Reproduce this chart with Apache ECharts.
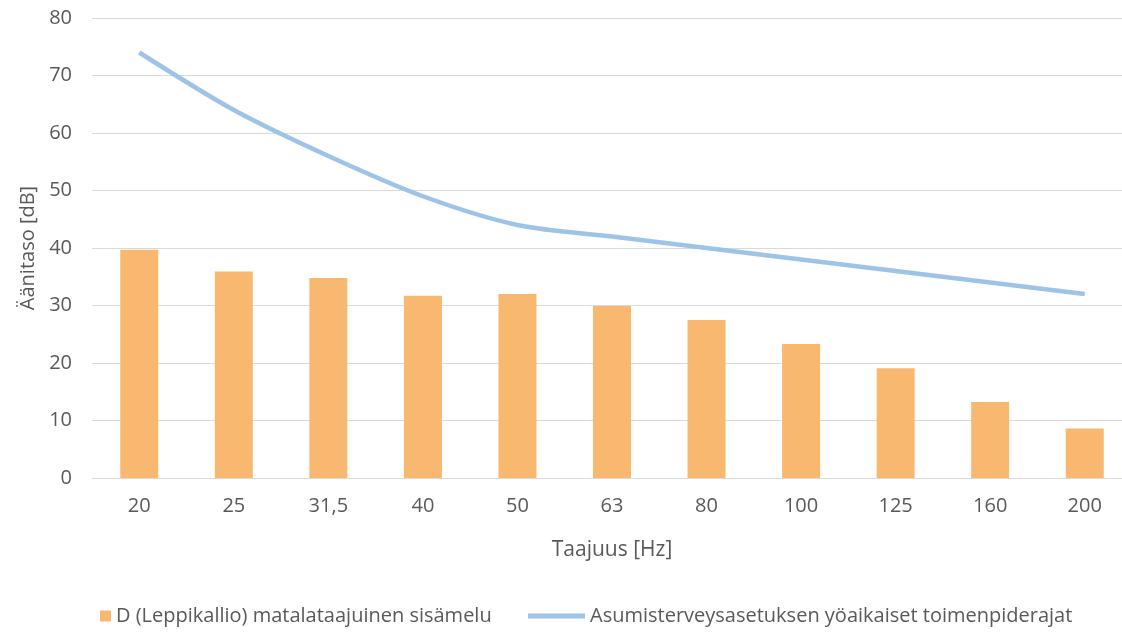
<!DOCTYPE html>
<html>
<head>
<meta charset="utf-8">
<script src="https://cdn.jsdelivr.net/npm/echarts@6/dist/echarts.min.js"></script>
<style>
  html, body { margin: 0; padding: 0; background: #fff; overflow: hidden; }
  /* the plot area runs past the right edge of the window, as in the reference */
  #chart { width: 1132px; height: 634px; }
</style>
</head>
<body>
<div id="chart"></div>
<script>
// Frequencies (Hz) on the x axis
const FREQUENCIES = ['20', '25', '31,5', '40', '50', '63', '80', '100', '125', '160', '200'];
// Measured low-frequency indoor noise, dB
const INDOOR_NOISE = [39.7, 35.9, 34.8, 31.7, 32.0, 29.9, 27.5, 23.3, 19.1, 13.2, 8.6];
// Night-time action limits, dB
const NIGHT_LIMITS = [74, 64, 56, 49, 44, 42, 40, 38, 36, 34, 32];

const BAR_NAME = 'D (Leppikallio) matalataajuinen sisämelu';
const LINE_NAME = 'Asumisterveysasetuksen yöaikaiset toimenpiderajat';

const FONT = '"Open Sans", sans-serif';
const TEXT = '#595959';
const ORANGE = '#F8B86F';
const BLUE = '#9DC3E6';

let chart = echarts.init(document.getElementById('chart'), null, { renderer: 'canvas' });

chart.setOption({
  animation: false,
  textStyle: { fontFamily: FONT, color: TEXT },
  grid: { left: 92, top: 18, right: 0, height: 460, containLabel: false },
  // two legends so each icon can have its own size
  legend: [
    {
      left: 95,
      top: 601,
      itemWidth: 11,
      itemHeight: 11,
      textStyle: { fontSize: 20, color: TEXT, fontFamily: FONT },
      data: [{ name: BAR_NAME, icon: 'rect' }]
    },
    {
      left: 523,
      top: 601,
      itemWidth: 57,
      itemHeight: 5,
      textStyle: { fontSize: 20, color: TEXT, fontFamily: FONT },
      data: [{ name: LINE_NAME, icon: 'rect' }]
    }
  ],
  xAxis: {
    type: 'category',
    data: FREQUENCIES,
    name: 'Taajuus [Hz]',
    nameLocation: 'middle',
    nameGap: 62,
    nameTextStyle: { fontSize: 21, color: TEXT, fontFamily: FONT },
    axisLine: { lineStyle: { color: '#D9D9D9', width: 1 } },
    axisTick: { show: false },
    axisLabel: { fontSize: 20, color: TEXT, margin: 18 }
  },
  yAxis: {
    type: 'value',
    min: 0,
    max: 80,
    interval: 10,
    name: 'Äänitaso [dB]',
    nameLocation: 'middle',
    nameGap: 52,
    nameRotate: 90,
    nameTextStyle: { fontSize: 20, color: TEXT, fontFamily: FONT },
    axisLine: { show: false },
    axisTick: { show: false },
    axisLabel: { fontSize: 20, color: TEXT, margin: 20 },
    splitLine: { lineStyle: { color: '#D9D9D9', width: 1 } }
  },
  series: [
    {
      name: BAR_NAME,
      type: 'bar',
      data: INDOOR_NOISE,
      barWidth: 38,
      itemStyle: { color: ORANGE }
    },
    {
      name: LINE_NAME,
      type: 'line',
      data: NIGHT_LIMITS,
      smooth: 0.3,
      symbol: 'none',
      lineStyle: { color: BLUE, width: 4.5 },
      itemStyle: { color: BLUE }
    }
  ]
});
</script>
</body>
</html>
